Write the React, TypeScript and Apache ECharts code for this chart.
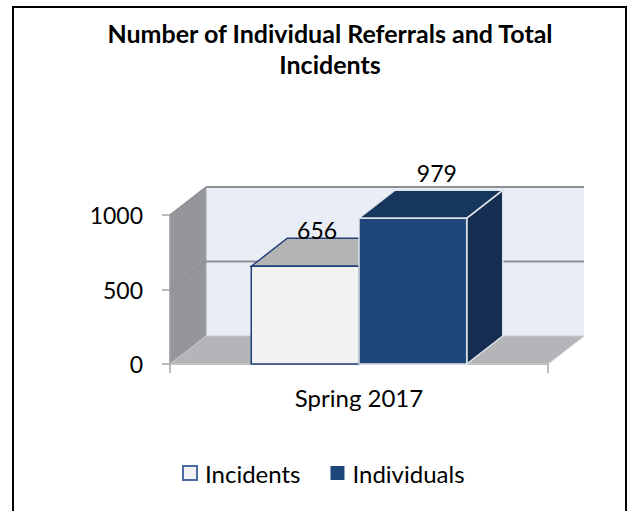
import React, { useEffect, useRef } from "react";
import * as echarts from "echarts";

const titleText = "Number of Individual Referrals and Total\nIncidents";
const categories = ["Spring 2017"];
const seriesNames = ["Incidents", "Individuals"];
const incidentsValues = [656];
const individualsValues = [979];
const yTicks = [0, 500, 1000];

const FONT = "Lato, 'Open Sans', sans-serif";
const DEPTH_X = 36;
const DEPTH_Y = -28;
const BAR_RATIO = 0.285;

const wallsRender = (params: any, api: any) => {
  const cs = params.coordSys;
  const x0 = cs.x;
  const x1 = cs.x + cs.width;
  const yB = api.coord([0, yTicks[0]])[1];
  const yT = api.coord([0, yTicks[yTicks.length - 1]])[1];
  const children: any[] = [];
  children.push({
    type: "rect",
    shape: { x: x0 + DEPTH_X, y: yT + DEPTH_Y, width: x1 - x0, height: yB - yT },
    style: { fill: "#e9edf6", stroke: "none" },
  });
  children.push({
    type: "polygon",
    shape: {
      points: [
        [x0, yT],
        [x0 + DEPTH_X, yT + DEPTH_Y],
        [x0 + DEPTH_X, yB + DEPTH_Y],
        [x0, yB],
      ],
    },
    style: { fill: "#95969a", stroke: "#a3a4a7", lineWidth: 1 },
  });
  children.push({
    type: "polygon",
    shape: {
      points: [
        [x0, yB],
        [x1, yB],
        [x1 + DEPTH_X, yB + DEPTH_Y],
        [x0 + DEPTH_X, yB + DEPTH_Y],
      ],
    },
    style: { fill: "#b3b5b9", stroke: "#c8c9cc", lineWidth: 1 },
  });
  yTicks.forEach((v, i) => {
    if (i === 0) return;
    const y = api.coord([0, v])[1];
    children.push({
      type: "line",
      shape: { x1: x0 + DEPTH_X, y1: y + DEPTH_Y, x2: x1 + DEPTH_X, y2: y + DEPTH_Y },
      style: { stroke: "#8f9093", lineWidth: 2 },
    });
    children.push({
      type: "line",
      shape: { x1: x0, y1: y, x2: x0 + DEPTH_X, y2: y + DEPTH_Y },
      style: { stroke: "#8f9093", lineWidth: 1.5 },
    });
  });
  return { type: "group", children };
};

const barStyles = [
  { front: "#f2f2f2", top: "#b4b4b4", side: "#cfcfcf", stroke: "#23407a", lw: 1.5, labelDx: -6, labelDy: 4 },
  { front: "#1f477c", top: "#17365d", side: "#142d50", stroke: "#dfe3ea", lw: 1.5, labelDx: 6, labelDy: -5 },
];

const makeBarRender = (idx: number) => (params: any, api: any) => {
  const st = barStyles[idx];
  const cat = api.value(0);
  const val = api.value(1);
  const top = api.coord([cat, val]);
  const base = api.coord([cat, 0]);
  const band = api.size([1, 0])[0];
  const w = band * BAR_RATIO;
  const xL = idx === 0 ? top[0] - w : top[0];
  const xR = xL + w;
  const yT = top[1];
  const yB = base[1];
  return {
    type: "group",
    children: [
      {
        type: "polygon",
        shape: {
          points: [
            [xR, yT],
            [xR + DEPTH_X, yT + DEPTH_Y],
            [xR + DEPTH_X, yB + DEPTH_Y],
            [xR, yB],
          ],
        },
        style: { fill: st.side, stroke: st.stroke, lineWidth: st.lw },
      },
      {
        type: "polygon",
        shape: {
          points: [
            [xL, yT],
            [xR, yT],
            [xR + DEPTH_X, yT + DEPTH_Y],
            [xL + DEPTH_X, yT + DEPTH_Y],
          ],
        },
        style: { fill: st.top, stroke: st.stroke, lineWidth: st.lw },
      },
      {
        type: "rect",
        shape: { x: xL, y: yT, width: w, height: yB - yT },
        style: { fill: st.front, stroke: st.stroke, lineWidth: st.lw },
      },
      {
        type: "text",
        x: xL + w / 2 + DEPTH_X / 2 + st.labelDx,
        y: yT + DEPTH_Y - 12 + st.labelDy,
        style: {
          text: String(val),
          fill: "#000",
          font: `23px ${FONT}`,
          align: "center",
          verticalAlign: "middle",
        },
      },
    ],
  };
};

export default function App() {
  const ref = useRef<HTMLDivElement>(null);
  useEffect(() => {
    if (!ref.current) return;
    const chart = echarts.init(ref.current, null, { renderer: "svg" });
    const seriesData = [incidentsValues, individualsValues];
    chart.setOption({
      animation: false,
      backgroundColor: "#ffffff",
      graphic: [
        {
          type: "rect",
          shape: { x: 13, y: 7, width: 613, height: 530 },
          style: { fill: "none", stroke: "#000", lineWidth: 2 },
          silent: true,
        },
        {
          type: "text",
          x: 330,
          y: 17,
          silent: true,
          style: {
            text: titleText,
            align: "center",
            verticalAlign: "top",
            fill: "#000",
            fontFamily: FONT,
            fontWeight: "bold",
            fontSize: 25,
            lineHeight: 31,
          },
        },
      ],
      legend: {
        bottom: 21,
        left: 177,
        itemWidth: 14,
        itemHeight: 14,
        itemGap: 30,
        icon: "rect",
        textStyle: { fontFamily: FONT, fontSize: 24, color: "#000", padding: [0, 0, 0, 3] },
        data: [
          { name: seriesNames[0], itemStyle: { color: "#f2f2f2", borderColor: "#4a6aa2", borderWidth: 2 } },
          { name: seriesNames[1], itemStyle: { color: "#1f477c", borderColor: "#1f477c", borderWidth: 0 } },
        ],
      },
      grid: { left: 170, right: 80, top: 215, bottom: 147 },
      xAxis: {
        type: "category",
        data: categories,
        axisLine: { show: true, lineStyle: { color: "#a6a6a6", width: 1.5 } },
        axisTick: { show: true, length: 9, lineStyle: { color: "#a6a6a6", width: 1.5 } },
        axisLabel: { fontFamily: FONT, fontSize: 24, color: "#000", margin: 21 },
      },
      yAxis: {
        type: "value",
        min: 0,
        max: 1000,
        interval: 500,
        axisLine: { show: true, lineStyle: { color: "#a6a6a6", width: 1.5 } },
        axisTick: { show: true, length: 8, lineStyle: { color: "#a6a6a6", width: 1.5 } },
        axisLabel: {
          fontFamily: FONT,
          fontSize: 23,
          color: "#000",
          margin: 27,
          formatter: (v: number) => String(v),
        },
        splitLine: { show: false },
      },
      series: [
        {
          type: "custom",
          name: "walls",
          renderItem: wallsRender,
          data: [[0, 0]],
          silent: true,
          z: 1,
        },
        ...seriesNames.map((name, i) => ({
          type: "custom",
          name,
          renderItem: makeBarRender(i),
          data: seriesData[i].map((v, j) => [j, v]),
          encode: { x: 0, y: 1 },
          itemStyle: { color: i === 0 ? "#f2f2f2" : "#1f477c" },
          z: 2 + i,
        })),
      ],
    });
    return () => chart.dispose();
  }, []);
  return (
    <div
      ref={ref}
      style={{ position: "fixed", left: 0, top: 0, width: 628, height: 511, background: "#fff" }}
    />
  );
}
